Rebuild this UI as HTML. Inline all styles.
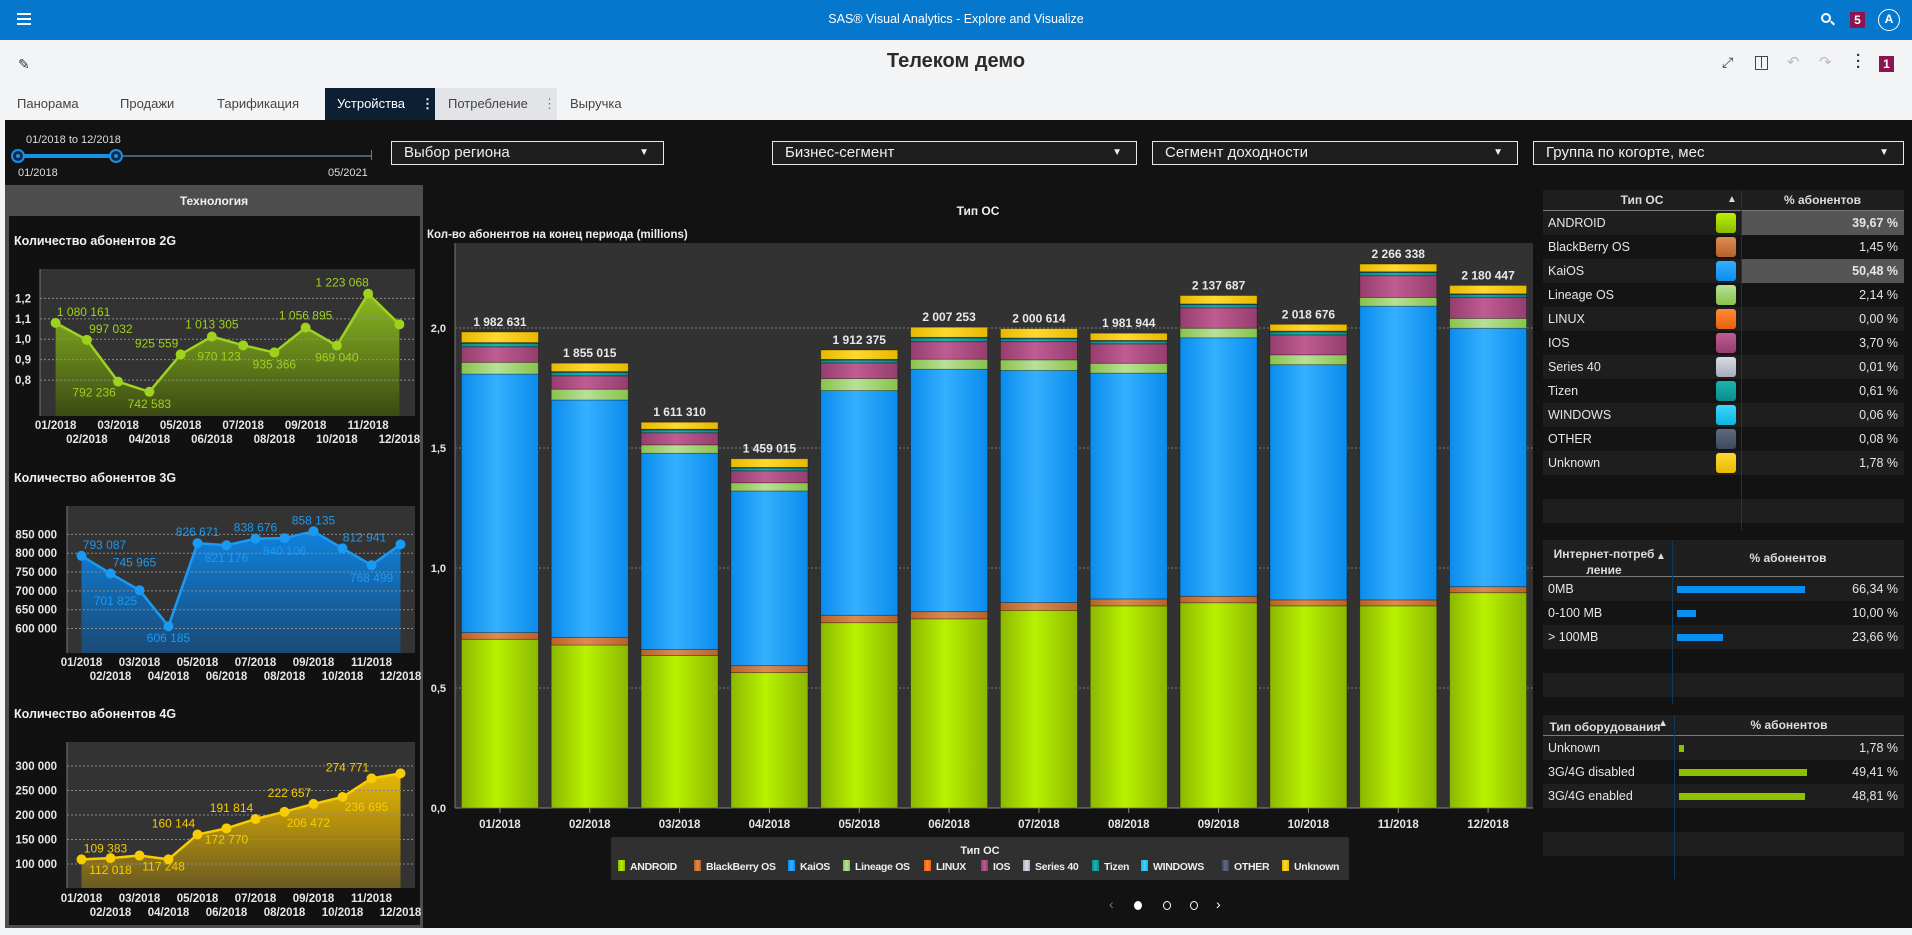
<!DOCTYPE html>
<html lang="ru"><head><meta charset="utf-8"><title>Телеком демо</title>
<style>
*{box-sizing:border-box;margin:0;padding:0}
body{width:1912px;height:935px;overflow:hidden;background:#f3f4f6;font-family:"Liberation Sans","Noto Sans CJK SC",sans-serif;position:relative}
.abs{position:absolute}
.topbar{left:0;top:0;width:1912px;height:40px;background:#0577cc}
.tab{position:absolute;top:88px;height:32px;line-height:32px;font-size:13px;color:#444}
.dd{position:absolute;top:141px;height:24px;border:1px solid #e8e8e8;background:#1e1e1e;color:#eee;font-size:15px;line-height:22px;padding-left:12px}
.dd span.ar{position:absolute;right:14px;top:0;font-size:10px}
.tbl{position:absolute;left:1543px;width:361px;font-size:12.5px;color:#e6e6e6}
.row{position:absolute;left:0;width:361px;height:24px;line-height:24px}
.hdr{position:absolute;left:0;width:361px;background:#1f1f1f;border-bottom:1px solid #7a7a7a;color:#ddd;font-weight:bold;font-size:12px}
svg text{font-family:"Liberation Sans",sans-serif}
</style></head><body>
<div class="abs topbar"></div>
<div class="abs" style="left:17px;top:13px;width:14px;height:12px;border-top:2px solid #fff;border-bottom:2px solid #fff"><div style="margin-top:3px;height:2px;background:#fff"></div></div>
<div class="abs" style="left:0;width:1912px;top:12px;text-align:center;color:#fff;font-size:12.5px">SAS® Visual Analytics - Explore and Visualize</div>
<div class="abs" style="left:1821px;top:13px;width:10px;height:10px;border:2px solid #fff;border-radius:50%"></div>
<div class="abs" style="left:1830px;top:22px;width:5px;height:2px;background:#fff;transform:rotate(45deg)"></div>
<div class="abs" style="left:1850px;top:12px;width:15px;height:16px;background:#8c1550;color:#fff;font-size:12px;font-weight:bold;text-align:center;line-height:16px">5</div>
<div class="abs" style="left:1878px;top:9px;width:22px;height:22px;border:1.5px solid #fff;border-radius:50%;color:#fff;font-size:12px;font-weight:bold;text-align:center;line-height:19px">A</div>

<div class="abs" style="left:18px;top:56px;color:#333;font-size:14px">✎</div>
<div class="abs" style="left:0;width:1912px;top:50px;text-align:center;color:#2b2b2b;font-size:20px;font-weight:bold">Телеком демо</div>
<div class="abs" style="left:1722px;top:54px;color:#333;font-size:14px">⤢</div>
<div class="abs" style="left:1755px;top:56px;width:13px;height:14px;border:1.5px solid #444"><div style="margin-left:5px;width:1px;height:11px;background:#444"></div></div>
<div class="abs" style="left:1787px;top:53px;color:#bbb;font-size:15px">↶</div>
<div class="abs" style="left:1819px;top:53px;color:#bbb;font-size:15px">↷</div>
<div class="abs" style="left:1856px;top:53px;color:#333;font-size:15px;font-weight:bold;line-height:6px;width:4px">·<br>·<br>·</div>
<div class="abs" style="left:1879px;top:56px;width:15px;height:16px;background:#8c1550;color:#fff;font-size:12px;font-weight:bold;text-align:center;line-height:16px">1</div>

<div class="tab" style="left:17px">Панорама</div>
<div class="tab" style="left:120px">Продажи</div>
<div class="tab" style="left:217px">Тарификация</div>
<div class="tab" style="left:325px;width:110px;background:#0c1f33;color:#fff;padding-left:12px">Устройства<span style="position:absolute;left:96px;font-weight:bold">⋮</span></div>
<div class="tab" style="left:435px;width:122px;background:#e2e4e8;padding-left:13px">Потребление<span style="position:absolute;left:108px;color:#777">⋮</span></div>
<div class="tab" style="left:570px">Выручка</div>

<div class="abs" style="left:5px;top:120px;width:1907px;height:808px;background:#121212"></div>

<div class="abs" style="left:26px;top:134px;color:#ddd;font-size:11px">01/2018 to 12/2018</div>
<div class="abs" style="left:18px;top:155px;width:354px;height:2px;background:#4f5d6b"></div>
<div class="abs" style="left:371px;top:150px;width:1px;height:10px;background:#777"></div>
<div class="abs" style="left:18px;top:154px;width:98px;height:4px;background:#1b8fe6"></div>
<div class="abs" style="left:11px;top:149px;width:14px;height:14px;border-radius:50%;background:#0b2a4a;border:2px solid #1b8fe6"><div style="margin:3px;width:4px;height:4px;border-radius:50%;background:#1b8fe6"></div></div>
<div class="abs" style="left:109px;top:149px;width:14px;height:14px;border-radius:50%;background:#0b2a4a;border:2px solid #1b8fe6"><div style="margin:3px;width:4px;height:4px;border-radius:50%;background:#1b8fe6"></div></div>
<div class="abs" style="left:18px;top:167px;color:#ddd;font-size:11px">01/2018</div>
<div class="abs" style="left:328px;top:167px;color:#ddd;font-size:11px">05/2021</div>

<div class="dd" style="left:391px;width:273px">Выбор региона<span class="ar">▼</span></div>
<div class="dd" style="left:772px;width:365px">Бизнес-сегмент<span class="ar">▼</span></div>
<div class="dd" style="left:1152px;width:366px">Сегмент доходности<span class="ar">▼</span></div>
<div class="dd" style="left:1533px;width:371px">Группа по когорте, мес<span class="ar">▼</span></div>

<div class="abs" style="left:5px;top:185px;width:418px;height:743px;background:#4d4d4d"></div>
<div class="abs" style="left:5px;width:418px;top:194px;text-align:center;color:#f0f0f0;font-size:12px;font-weight:bold">Технология</div>
<div class="abs" style="left:9px;top:216px;width:411px;height:709px;background:#111"></div>
<div class="abs" style="left:14px;top:234px;color:#f0f0f0;font-size:12.5px;font-weight:bold">Количество абонентов 2G</div>
<div class="abs" style="left:14px;top:471px;color:#f0f0f0;font-size:12.5px;font-weight:bold">Количество абонентов 3G</div>
<div class="abs" style="left:14px;top:707px;color:#f0f0f0;font-size:12.5px;font-weight:bold">Количество абонентов 4G</div>

<div class="abs" style="left:900px;width:156px;top:204px;text-align:center;color:#eee;font-size:12px;font-weight:bold">Тип ОС</div>
<div class="abs" style="left:427px;top:229px;color:#eee;font-size:11.5px;font-weight:bold">Кол-во абонентов на конец периода (millions)</div>

<div class="abs" style="left:611px;top:837px;width:738px;height:43px;background:#303030;border-radius:2px"></div>
<div class="abs" style="left:611px;width:738px;top:845px;text-align:center;color:#eee;font-size:11px;font-weight:bold">Тип ОС</div>
<div id="legend"></div>

<div class="abs" style="left:1109px;top:896px;color:#777;font-size:14px">‹</div>
<div class="abs" style="left:1134px;top:901px;width:8px;height:9px;border-radius:50%;background:#fff"></div>
<div class="abs" style="left:1163px;top:901px;width:8px;height:9px;border-radius:50%;border:1.5px solid #fff"></div>
<div class="abs" style="left:1190px;top:901px;width:8px;height:9px;border-radius:50%;border:1.5px solid #fff"></div>
<div class="abs" style="left:1216px;top:896px;color:#fff;font-size:14px">›</div>

<div id="tables"></div>

<svg id="charts" class="abs" style="left:0;top:0" width="1912" height="935" xmlns="http://www.w3.org/2000/svg"><defs id="defs"></defs></svg>

<script>
// ---- Main stacked bar chart data (millions) ----
const months = ['01/2018','02/2018','03/2018','04/2018','05/2018','06/2018','07/2018','08/2018','09/2018','10/2018','11/2018','12/2018'];
const seriesNames = ['ANDROID','BlackBerry OS','KaiOS','Lineage OS','LINUX','IOS','Series 40','Tizen','WINDOWS','OTHER','Unknown'];
const android = [0.703,0.679,0.635,0.564,0.772,0.788,0.823,0.842,0.855,0.842,0.842,0.897];
const blackberry = [0.028,0.032,0.026,0.029,0.031,0.030,0.033,0.029,0.027,0.025,0.025,0.025];
const kaios = [1.077,0.989,0.817,0.728,0.936,1.010,0.967,0.941,1.077,0.980,1.224,1.077];
const lineage = [0.049,0.045,0.035,0.034,0.050,0.042,0.044,0.041,0.040,0.041,0.036,0.041];
const linux = [0,0,0,0,0,0,0,0,0,0,0,0];
const ios = [0.065,0.056,0.051,0.050,0.066,0.074,0.077,0.081,0.086,0.083,0.092,0.088];
const series40 = [0.0002,0.0002,0.0002,0.0002,0.0002,0.0002,0.0002,0.0002,0.0002,0.0002,0.0002,0.0002];
const tizen = [0.014,0.014,0.011,0.011,0.011,0.014,0.011,0.011,0.012,0.013,0.012,0.011];
const windows = [0.001,0.001,0.001,0.001,0.001,0.001,0.001,0.001,0.001,0.001,0.001,0.001];
const other = [0.002,0.002,0.002,0.002,0.002,0.002,0.002,0.002,0.002,0.002,0.002,0.002];
const unknown = [0.044,0.035,0.029,0.036,0.039,0.042,0.039,0.030,0.035,0.028,0.032,0.035];
const totalLabels = ['1 982 631','1 855 015','1 611 310','1 459 015','1 912 375','2 007 253','2 000 614','1 981 944','2 137 687','2 018 676','2 266 338','2 180 447'];
const yTicks = [0,0.5,1.0,1.5,2.0];
const yTickLabels = ['0,0','0,5','1,0','1,5','2,0'];

// ---- Technology line charts data ----
const subs2g = [1080161,997032,792236,742583,925559,1013305,970123,935366,1056895,969040,1223068,1073000];
const subs2gLabels = ['1 080 161','997 032','792 236','742 583','925 559','1 013 305','970 123','935 366','1 056 895','969 040','1 223 068',''];
const ticks2g = [0.8,0.9,1.0,1.1,1.2];
const ticks2gLabels = ['0,8','0,9','1,0','1,1','1,2'];
const subs3g = [793087,745965,701825,606185,826671,821176,838676,840106,858135,812941,768499,823400];
const subs3gLabels = ['793 087','745 965','701 825','606 185','826 671','821 176','838 676','840 106','858 135','812 941','768 499',''];
const ticks3g = [600000,650000,700000,750000,800000,850000];
const ticks3gLabels = ['600 000','650 000','700 000','750 000','800 000','850 000'];
const subs4g = [109383,112018,117248,109500,160144,172770,191814,206472,222657,236695,274771,285000];
const subs4gLabels = ['109 383','112 018','117 248','','160 144','172 770','191 814','206 472','222 657','236 695','274 771',''];
const ticks4g = [100000,150000,200000,250000,300000];
const ticks4gLabels = ['100 000','150 000','200 000','250 000','300 000'];

// ---- Tables data ----
const osPct = [39.67,1.45,50.48,2.14,0.00,3.70,0.01,0.61,0.06,0.08,1.78];
const internetCats = ['0MB','0-100 MB','> 100MB'];
const internetPct = [66.34,10.00,23.66];
const equipCats = ['Unknown','3G/4G disabled','3G/4G enabled'];
const equipPct = [1.78,49.41,48.81];

const NS='http://www.w3.org/2000/svg';
const svg=document.getElementById('charts');
const defs=document.getElementById('defs');
function mk(tag,attrs,parent){const e=document.createElementNS(NS,tag);for(const k in attrs)e.setAttribute(k,attrs[k]);(parent||svg).appendChild(e);return e;}
const colorPairs=[['#8cb800','#b8f200'],['#b8612a','#dc8c50'],['#0a8ced','#35b0ff'],['#88c24c','#b8e098'],['#e8600c','#ff8a3a'],['#953d6e','#c05c92'],['#a8acb8','#d8dce4'],['#0b8b88','#19b5b0'],['#0fb5e0','#3ed6ff'],['#3f495c','#5f6a80'],['#e8b800','#ffd830']];
colorPairs.forEach((c,i)=>{const g=mk('linearGradient',{id:'g'+i,x1:0,x2:1,y1:0,y2:0},defs);
 mk('stop',{offset:0,'stop-color':c[0]},g);mk('stop',{offset:0.45,'stop-color':c[1]},g);mk('stop',{offset:1,'stop-color':c[0]},g);
 const h=mk('linearGradient',{id:'s'+i,x1:0,x2:0,y1:0,y2:1},defs);
 mk('stop',{offset:0,'stop-color':c[1]},h);mk('stop',{offset:1,'stop-color':c[0]},h);});

// ---- main chart ----
const allSeries=[android,blackberry,kaios,lineage,linux,ios,series40,tizen,windows,other,unknown];
const PX0=455,PX1=1533,PY0=808,PY1=243,YMAX=2.354;
const ys=v=>PY0-v/YMAX*(PY0-PY1);
const band=(PX1-PX0)/months.length;
const xc=i=>PX0+band*(i+0.5);
const plotBg=mk('rect',{x:PX0,y:PY1,width:PX1-PX0,height:PY0-PY1,fill:'#323232'});


yTicks.forEach((t,i)=>{
 if(t>0){const gl=mk('line',{x1:PX0,x2:PX1,y1:ys(t),y2:ys(t),stroke:'#7a7a7a','stroke-dasharray':'2,2','stroke-width':1});
 
 }
 const tl=mk('text',{x:PX0-9,y:ys(t)+4,'text-anchor':'end',fill:'#e6e6e6','font-size':11,'font-weight':'bold'});
 tl.textContent=yTickLabels[i];
 
 
});
mk('line',{x1:PX0,x2:PX0,y1:PY1,y2:PY0,stroke:'#777'});
mk('line',{x1:PX0,x2:PX1,y1:PY0,y2:PY0,stroke:'#888'});
const bw=77;
months.forEach((m,i)=>{
 let acc=0;
 allSeries.forEach((s,k)=>{
  const v=s[i];if(v<=0)return;
  const r=mk('rect',{x:xc(i)-bw/2,y:ys(acc+v),width:bw,height:Math.max(0.5,ys(acc)-ys(acc+v)),fill:'url(#g'+k+')',stroke:'rgba(0,0,0,0.35)','stroke-width':0.8});
  
  
  acc+=v;
 });
 const tl=mk('text',{x:xc(i),y:ys(acc)-6,'text-anchor':'middle',fill:'#e8e8e8','font-size':12,'font-weight':'bold'});
 tl.textContent=totalLabels[i];
 
 
 mk('line',{x1:xc(i),x2:xc(i),y1:PY0,y2:PY0+5,stroke:'#888'});
 const xl=mk('text',{x:xc(i),y:828,'text-anchor':'middle',fill:'#e6e6e6','font-size':11.5,'font-weight':'bold'});
 xl.textContent=m;
 
 
});

// ---- legend ----
const legendX=[618,694,788,843,924,981,1023,1092,1141,1222,1282];
const leg=document.getElementById('legend');
seriesNames.forEach((n,i)=>{
 const d=document.createElement('div');
 d.className='abs';
 d.style.cssText='left:'+legendX[i]+'px;top:860px;height:12px;font-size:10.5px;font-weight:bold;color:#eee;white-space:nowrap;line-height:12px;letter-spacing:-0.3px';
 d.innerHTML='<span style="display:inline-block;width:7px;height:11px;vertical-align:-1px;margin-right:5px;background:linear-gradient(90deg,'+colorPairs[i][0]+','+colorPairs[i][1]+','+colorPairs[i][0]+')"></span>'+n;
 
 
 leg.appendChild(d);
});

// ---- line charts ----
const off2g=[[28,-11],[24,-11],[-24,11],[0,12],[-24,-11],[0,-12],[-24,11],[0,12],[0,-12],[0,12],[-26,-11],[0,0]];
const off3g=[[23,-11],[24,-11],[-24,11],[0,12],[0,-11],[0,13],[0,-11],[0,13],[0,-11],[22,-11],[0,13],[0,0]];
const off4g=[[24,-11],[0,12],[24,11],[0,0],[-24,-11],[0,11],[-24,-11],[24,11],[-24,-11],[24,10],[-24,-11],[0,0]];
function lineChart(name,vals,labels,ticks,tickLabels,scale,box,color,fillTop,fillBot,offs){
 const [x0,x1,y0,y1,dmin,dmax,tx]=box;
 const y=v=>y1-(v-dmin)/(dmax-dmin)*(y1-y0);
 const bw=(x1-x0)/vals.length;
 const x=i=>x0+bw*(i+0.5);
 const bg=mk('rect',{x:x0,y:y0,width:x1-x0,height:y1-y0,fill:'#333'});
 
 
 const gid='a'+name;
 const g=mk('linearGradient',{id:gid,x1:0,x2:0,y1:0,y2:1},defs);
 mk('stop',{offset:0,'stop-color':fillTop},g);mk('stop',{offset:1,'stop-color':fillBot},g);
 let p='M'+x(0)+','+y1;vals.forEach((v,i)=>{p+=' L'+x(i)+','+y(v/scale);});p+=' L'+x(vals.length-1)+','+y1+' Z';
 const area=mk('path',{d:p,fill:'url(#'+gid+')'});
 
 
 ticks.forEach((t,i)=>{
  const gl=mk('line',{x1:x0,x2:x1,y1:y(t),y2:y(t),stroke:'#8a8a8a','stroke-dasharray':'2,2'});
  
  
  const tl=mk('text',{x:tx,y:y(t)+4,'text-anchor':'end',fill:'#e6e6e6','font-size':11.5,'font-weight':'bold'});
  tl.textContent=tickLabels[i];
  
  
 });
 mk('line',{x1:x0,x2:x0,y1:y0,y2:y1,stroke:'#777'});
 let lp='';vals.forEach((v,i)=>{lp+=(i?' L':'M')+x(i)+','+y(v/scale);});
 const ln=mk('path',{d:lp,fill:'none',stroke:color,'stroke-width':2.5});
 
 
 vals.forEach((v,i)=>{
  const c=mk('circle',{cx:x(i),cy:y(v/scale),r:5,fill:color});
  
  
  if(labels[i]){
   const t=mk('text',{x:x(i)+offs[i][0],y:y(v/scale)+offs[i][1]+4,'text-anchor':'middle',fill:color,'font-size':12});
   t.textContent=labels[i];
   
   
  }
  const xl=mk('text',{x:x(i),y:(i%2===0?box[7]:box[8]),'text-anchor':'middle',fill:'#e6e6e6','font-size':11.5,'font-weight':'bold'});
  xl.textContent=months[i];
  
  
 });
}
lineChart('chart-2g',subs2g,subs2gLabels,ticks2g,ticks2gLabels,1e6,[40,415,269,416,0.624,1.344,31,429,443],'#9fd21e','#8cba22','#3c4a14',off2g);
lineChart('chart-3g',subs3g,subs3gLabels,ticks3g,ticks3gLabels,1,[67,415,506,653,535100,925300,57,666,680],'#1a9af2','#0f82dc','#1a4a78',off3g);
lineChart('chart-4g',subs4g,subs4gLabels,ticks4g,ticks4gLabels,1,[67,415,742,888,51000,349000,57,902,916],'#f7cc00','#e8b800','#6a5a22',off4g);

// ---- tables ----
const tables=document.getElementById('tables');
function div(css,html,name,inter,parent){const d=document.createElement('div');d.className='abs';d.style.cssText=css;if(html!==undefined)d.innerHTML=html;
 
 
 (parent||tables).appendChild(d);return d;}
const fmt=v=>v.toFixed(2).replace('.',',')+' %';
// OS table
div('left:1543px;top:190px;width:361px;height:21px;background:#1f1f1f;border-bottom:1px solid #7a7a7a','','os-table-header','false');
div('left:1543px;top:193px;width:198px;text-align:center;color:#ddd;font-weight:bold;font-size:12px','Тип ОС','os-column-header','true');
div('left:1727px;top:194px;color:#ddd;font-size:10px','▲','os-sort-icon','true');
div('left:1741px;top:193px;width:163px;text-align:center;color:#ddd;font-weight:bold;font-size:12px','% абонентов','os-pct-column-header','true');
seriesNames.forEach((n,i)=>{
 const top=211+i*24;
 div('left:1543px;top:'+top+'px;width:361px;height:24px;background:'+(i%2?'#141414':'#1e1e1e'),'','os-table-row','true');
 if(i===0||i===2)div('left:1742px;top:'+top+'px;width:162px;height:24px;background:#555','','os-row-highlight','false');
 div('left:1548px;top:'+(top+5)+'px;font-size:12.5px;color:#e6e6e6',n,'os-name-cell','false');
 div('left:1716px;top:'+(top+2)+'px;width:20px;height:20px;border-radius:3px;background:linear-gradient(180deg,'+colorPairs[i][1]+','+colorPairs[i][0]+')','','os-color-swatch','false');
 div('left:1742px;width:156px;text-align:right;top:'+(top+5)+'px;font-size:12.5px;color:#e6e6e6;font-weight:'+((i===0||i===2)?'bold':'normal'),fmt(osPct[i]),'os-pct-cell','false');
});
div('left:1543px;top:499px;width:361px;height:24px;background:#1e1e1e','','os-table-empty-row','false');
div('left:1741px;top:190px;width:1px;height:340px;background:#0d3a5c','','os-column-divider','false');

function barTable(prefix,top,hdrH,title,cats,vals,divX,color,divBottom){
 div('left:1543px;top:'+top+'px;width:361px;height:'+hdrH+'px;background:#1f1f1f;border-bottom:1px solid #7a7a7a','',prefix+'-table-header','false');
 div('left:1548px;top:'+(top+(hdrH>30?6:4))+'px;width:'+(divX-1560)+'px;text-align:center;color:#ddd;font-weight:bold;font-size:12px;line-height:16px',title,prefix+'-column-header','true');
 div('left:'+(divX-16)+'px;top:'+(top+hdrH/2-8)+'px;color:#ddd;font-size:10px','▲',prefix+'-sort-icon','true');
 div('left:'+divX+'px;top:'+(top+hdrH/2-8)+'px;width:'+(1904-divX)+'px;text-align:center;color:#ddd;font-weight:bold;font-size:12px','% абонентов',prefix+'-pct-column-header','true');
 const mx=Math.max(...vals);
 cats.forEach((c,i)=>{
  const t=top+hdrH+i*24;
  div('left:1543px;top:'+t+'px;width:361px;height:24px;background:'+(i%2?'#141414':'#1e1e1e'),'',prefix+'-table-row','true');
  div('left:1548px;top:'+(t+5)+'px;font-size:12.5px;color:#e6e6e6',c,prefix+'-name-cell','false');
  div('left:'+(divX+5)+'px;top:'+(t+9)+'px;height:7px;width:'+(vals[i]/mx*128)+'px;background:'+color,'',prefix+'-bar','false');
  div('left:1742px;width:156px;text-align:right;top:'+(t+5)+'px;font-size:12.5px;color:#e6e6e6',fmt(vals[i]),prefix+'-pct-cell','false');
 });
 div('left:1543px;top:'+(top+hdrH+cats.length*24+24)+'px;width:361px;height:24px;background:#1e1e1e','',prefix+'-empty-row','false');
 div('left:'+divX+'px;top:'+top+'px;width:1px;height:'+(divBottom-top)+'px;background:#0d3a5c','',prefix+'-column-divider','false');
}
barTable('internet',540,37,'Интернет-потреб<br>ление',internetCats,internetPct,1672,'#0a8ef0',704);
barTable('equipment',715,21,'Тип оборудования',equipCats,equipPct,1674,'#8fc000',879);
</script>
</body></html>
